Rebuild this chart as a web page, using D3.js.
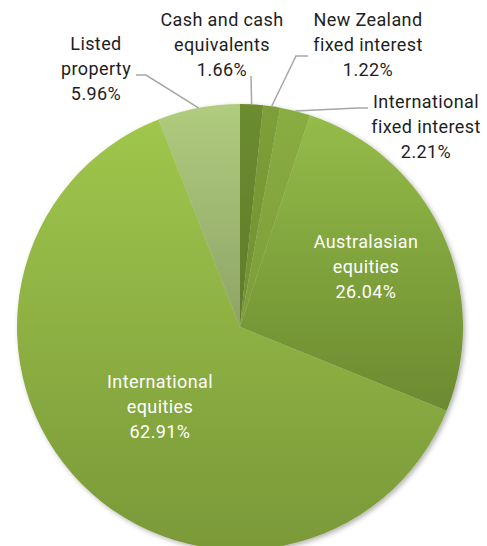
<!DOCTYPE html>
<html><head><meta charset="utf-8">
<script src="https://cdn.jsdelivr.net/npm/d3@7"></script>
<style>
html,body{margin:0;padding:0;background:#fff;}
svg{display:block;font-family:Roboto, "Noto Sans", sans-serif;}
</style></head>
<body>
<svg id="chart" width="487" height="546"></svg>
<script>
const categories = ["Cash and cash equivalents","New Zealand fixed interest","International fixed interest","Australasian equities","International equities","Listed property"];
const labelLines = [["Cash and cash","equivalents"],["New Zealand","fixed interest"],["International","fixed interest"],["Australasian","equities"],["International","equities"],["Listed","property"]];
const values = [1.66, 1.22, 2.21, 26.04, 62.91, 5.96];
const valueLabels = ["1.66%","1.22%","2.21%","26.04%","62.91%","5.96%"];

// layout / style (kept separate from data)
const colorsTop = ["#6c8c2f","#7e9f3a","#8aad42","#94bc49","#a0c64c","#b0cc7e"];
const colorsBot = ["#5f7c29","#71902f","#7d9c39","#6c8a30","#7a9939","#8ea466"];
const labelPos = [
  {x:222,y:26,inside:false,line:[[251,76]]},
  {x:368,y:26,inside:false,line:[[308,56],[296,56]]},
  {x:426,y:108,inside:false,line:[[368,108],[358,108]]},
  {x:366,y:248,inside:true},
  {x:160,y:388,inside:true},
  {x:96,y:50,inside:false,line:[[136,75],[146,75]]}
];
const cx = 240, cy = 327, R = 223, lineH = 25;

const svg = d3.select("#chart");
const defs = svg.append("defs");
const f = defs.append("filter").attr("id","sh").attr("x","-10%").attr("y","-10%").attr("width","130%").attr("height","130%");
f.append("feDropShadow").attr("dx",2).attr("dy",2).attr("stdDeviation",2.5).attr("flood-color","#000").attr("flood-opacity",0.3);

values.forEach((v,i)=>{
  const g = defs.append("linearGradient").attr("id","g"+i).attr("x1",0).attr("y1",0).attr("x2",0).attr("y2",1);
  g.append("stop").attr("offset","0%").attr("stop-color",colorsTop[i]);
  g.append("stop").attr("offset","100%").attr("stop-color",colorsBot[i]);
});

const pie = d3.pie().sort(null).value(d=>d)(values);
const arc = d3.arc().innerRadius(0).outerRadius(R);

const gp = svg.append("g").attr("transform",`translate(${cx},${cy})`).attr("filter","url(#sh)");
gp.selectAll("path").data(pie).join("path")
  .attr("d",arc)
  .attr("fill",(d,i)=>`url(#g${i})`);

// leader lines
const lg = svg.append("g").attr("fill","none").attr("stroke","#a6a6a6").attr("stroke-width",1.5);
pie.forEach((d,i)=>{
  const lp = labelPos[i];
  if(lp.inside) return;
  const a = (d.startAngle+d.endAngle)/2;
  const end = [cx + R*Math.sin(a), cy - R*Math.cos(a)];
  const pts = lp.line.concat([end]);
  lg.append("path").attr("d", d3.line()(pts));
});

// labels
const tg = svg.append("g").attr("font-size","18px").attr("letter-spacing","0.4px").attr("text-anchor","middle");
pie.forEach((d,i)=>{
  const lp = labelPos[i];
  const lines = labelLines[i].concat([valueLabels[i]]);
  const t = tg.append("text").attr("x",lp.x).attr("y",lp.y).attr("fill", lp.inside ? "#ffffff" : "#1e1e1e");
  lines.forEach((s,j)=>{
    t.append("tspan").attr("x",lp.x).attr("dy", j===0?0:lineH).text(s);
  });
});
</script>
</body></html>
